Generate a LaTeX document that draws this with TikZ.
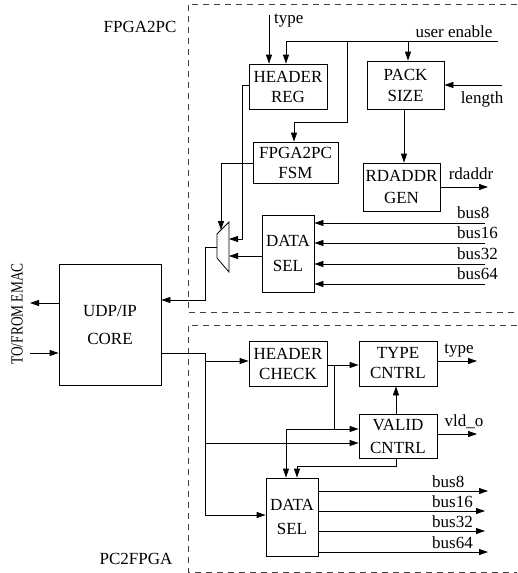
\documentclass[tikz,border=0pt]{standalone}
\usepackage{fontspec}
\setmainfont{Liberation Serif}
\usetikzlibrary{arrows.meta}
\begin{document}
\begin{tikzpicture}[x=1pt,y=-1pt,
  every node/.style={font=\fontsize{17}{20}\selectfont, inner sep=0pt},
  blk/.style={draw, line width=0.8pt, align=center},
  arr/.style={-{Triangle[length=9pt,width=6pt]}},
  ln/.style={line width=0.8pt},
  grp/.style={dash pattern=on 6pt off 5pt, line width=0.8pt, black!75},
  lbl/.style={anchor=base west},
  lblc/.style={anchor=base}
]
\useasboundingbox (0,0) rectangle (517,573);

% group frames
\draw[grp] (517,4) -- (188,4) -- (188,312) -- (517,312);
\draw[grp] (517,325) -- (188,325) -- (188,572) -- (517,572);
\node (gfp) at (140,27) {FPGA2PC};
\node (gpf) at (136,559) {PC2FPGA};

% blocks
\node[blk, minimum width=102pt, minimum height=121pt, font=\fontsize{17}{28}\selectfont] (udp) at (110,324.5) {UDP/IP\\CORE};
\node[blk, minimum width=78pt, minimum height=45pt] (hreg) at (288,86.5) {HEADER\\REG};
\node[blk, minimum width=77pt, minimum height=48pt, font=\fontsize{17}{21}\selectfont] (pack) at (405.5,85) {PACK\\SIZE};
\node[blk, minimum width=85pt, minimum height=41pt] (fsm) at (295.5,162.5) {FPGA2PC\\FSM};
\node[blk, minimum width=77pt, minimum height=48pt, font=\fontsize{17}{22}\selectfont] (rdg) at (401.5,187) {RDADDR\\GEN};
\node[blk, minimum width=52pt, minimum height=77pt, font=\fontsize{17}{25}\selectfont] (ds1) at (288,253.5) {DATA\\SEL};
\node[blk, minimum width=78pt, minimum height=45pt] (hchk) at (288,363.5) {HEADER\\CHECK};
\node[blk, minimum width=78pt, minimum height=45pt] (tcn) at (398,363.5) {TYPE\\CNTRL};
\node[blk, minimum width=78pt, minimum height=44pt, font=\fontsize{17}{23}\selectfont] (vcn) at (398,436) {VALID\\CNTRL};
\node[blk, minimum width=52pt, minimum height=78pt, font=\fontsize{17}{24}\selectfont] (ds2) at (292,517) {DATA\\SEL};

% mux
\draw[ln] (217,234) -- (229,222) -- (229,272) -- (217,258) -- cycle;

% side text
\node[rotate=90] (emac) at (17,314) {\scalebox{0.79}[1]{TO/FROM EMAC}};
\coordinate (emo) at (30,303);
\coordinate (emi) at (30,353);
\draw[ln,arr] (udp.west |- emo) -- (emo);
\draw[ln,arr] (emi) -- (emi -| udp.west);

% top inputs
\coordinate (typein) at (269,15);
\draw[ln,arr] (typein) -- (typein |- hreg.north);
\node[lbl] (ltype1) at (274,23) {type};

\coordinate (uein) at (498,41);
\coordinate (ue1) at (286,41);
\coordinate (ue2) at (408,41);
\coordinate (ue3) at (347,41);
\coordinate (ue4) at (347,122);
\coordinate (ue5) at (294,122);
\draw[ln,arr] (uein) -- (ue1) -- (ue1 |- hreg.north);
\draw[ln,arr] (ue2) -- (ue2 |- pack.north);
\draw[ln,arr] (ue3) -- (ue4) -- (ue5) -- (ue5 |- fsm.north);
\node[lblc] (lue) at (454,37) {user enable};

\coordinate (lenin) at (502,85);
\draw[ln,arr] (lenin) -- (pack.east |- lenin);
\node[lblc] (llen) at (482,103) {length};

\coordinate (pr) at (404,0);
\draw[ln,arr] (pack.south -| pr) -- (rdg.north -| pr);
\coordinate (rdout) at (488,187);
\draw[ln,arr] (rdg.east) -- (rdout);
\node[lblc] (lrd) at (471,179) {rdaddr};

% upper buses
\coordinate (bi8) at (485,223);
\coordinate (bi16) at (485,243);
\coordinate (bi32) at (485,264);
\coordinate (bi64) at (485,284);
\draw[ln,arr] (bi8) -- (bi8 -| ds1.east);
\draw[ln,arr] (bi16) -- (bi16 -| ds1.east);
\draw[ln,arr] (bi32) -- (bi32 -| ds1.east);
\draw[ln,arr] (bi64) -- (bi64 -| ds1.east);
\node[lbl] (lbi8) at (457,218) {bus8};
\node[lbl] (lbi16) at (457,238) {bus16};
\node[lbl] (lbi32) at (457,259) {bus32};
\node[lbl] (lbi64) at (457,279) {bus64};

% to mux
\coordinate (hm1) at (242,85);
\coordinate (mi1) at (229,239);
\draw[ln,arr] (hreg.west |- hm1) -- (hm1) -- (hm1 |- mi1) -- (mi1);
\coordinate (fm1) at (221,163);
\coordinate (mtop) at (221,230);
\draw[ln,arr] (fsm.west |- fm1) -- (fm1) -- (mtop);
\coordinate (mi2) at (229,256);
\draw[ln,arr] (ds1.west |- mi2) -- (mi2);
\coordinate (mo) at (217,247);
\coordinate (mo1) at (205,247);
\coordinate (mo2) at (205,300);
\draw[ln,arr] (mo) -- (mo1) -- (mo2) -- (mo2 -| udp.east);

% lower part
\coordinate (uo1) at (205,353);
\coordinate (uo2) at (205,515);
\draw[ln,arr] (udp.east |- uo1) -- (uo1) -- (uo2) -- (uo2 -| ds2.west);
\coordinate (b1) at (205,361);
\draw[ln,arr] (b1) -- (b1 -| hchk.west);
\coordinate (b2) at (205,443);
\draw[ln,arr] (b2) -- (b2 -| vcn.west);

\coordinate (ht) at (334,365);
\draw[ln,arr] (hchk.east |- ht) -- (tcn.west |- ht);
\coordinate (hv) at (334,429);
\coordinate (hd) at (286,429);
\draw[ln,arr] (ht) -- (hv) -- (vcn.west |- hv);
\draw[ln,arr] (hv) -- (hd) -- (hd |- ds2.north);

\coordinate (vt) at (396,0);
\draw[ln,arr] (vcn.north -| vt) -- (tcn.south -| vt);
\coordinate (tout) at (477,361);
\draw[ln,arr] (tcn.east |- tout) -- (tout);
\node[lblc] (ltype2) at (459,353) {type};
\coordinate (vout) at (477,434);
\draw[ln,arr] (vcn.east |- vout) -- (vout);
\node[lblc] (lvld) at (464,426) {vld\_o};
\coordinate (vd1) at (396,466);
\coordinate (vd2) at (297,466);
\draw[ln,arr] (vcn.south -| vd1) -- (vd1) -- (vd2) -- (vd2 |- ds2.north);

% lower buses
\coordinate (bo8) at (488,491);
\coordinate (bo16) at (485,511);
\coordinate (bo32) at (485,531);
\coordinate (bo64) at (488,552);
\draw[ln,arr] (bo8 -| ds2.east) -- (bo8);
\draw[ln,arr] (bo16 -| ds2.east) -- (bo16);
\draw[ln,arr] (bo32 -| ds2.east) -- (bo32);
\draw[ln,arr] (bo64 -| ds2.east) -- (bo64);
\node[lbl] (lbo8) at (432,487) {bus8};
\node[lbl] (lbo16) at (432,507) {bus16};
\node[lbl] (lbo32) at (432,527) {bus32};
\node[lbl] (lbo64) at (432,548) {bus64};
\end{tikzpicture}
\end{document}
